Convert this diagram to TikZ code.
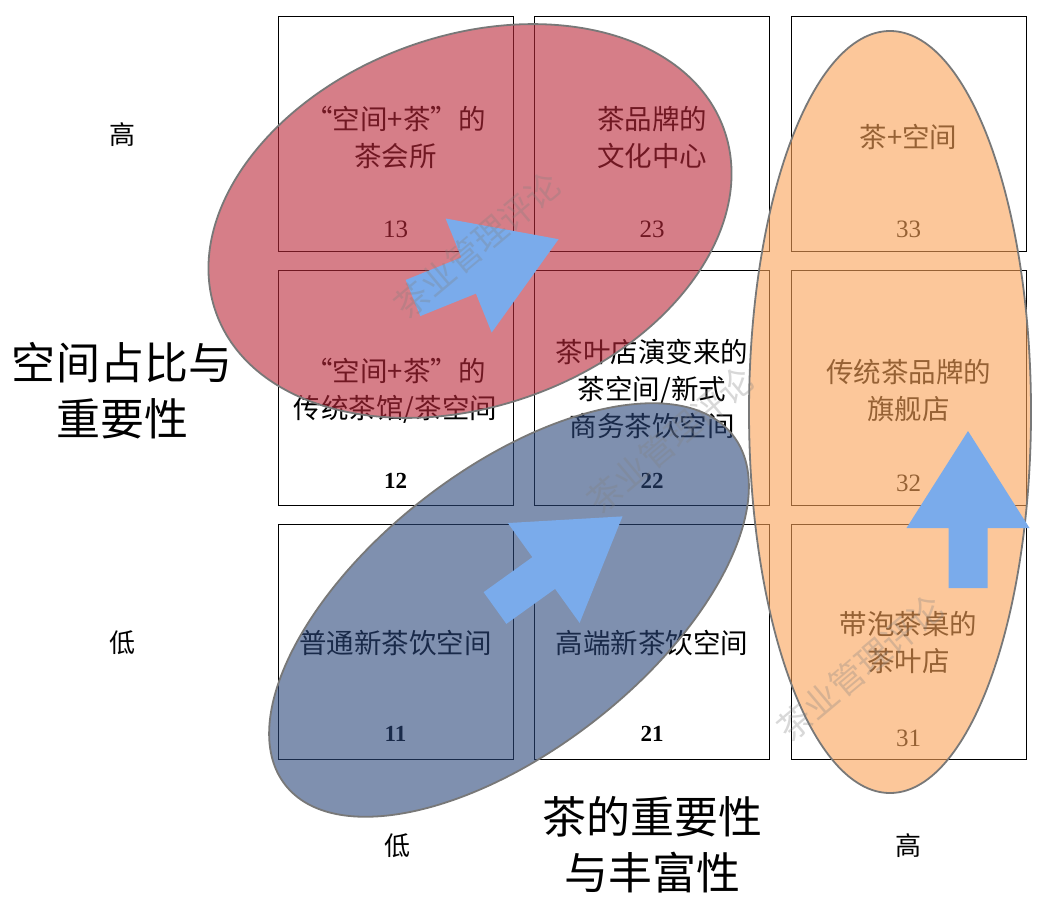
\documentclass[tikz,border=0pt]{standalone}
\usepackage{fontspec}
\setmainfont{Noto Sans CJK SC}
\newfontfamily\numfont{Liberation Serif}
\definecolor{redov}{RGB}{188,40,58}
\definecolor{blueov}{RGB}{43,70,123}
\definecolor{orangeov}{RGB}{250,163,88}
\definecolor{arrowblue}{RGB}{122,171,235}
\definecolor{rimgray}{RGB}{120,120,120}
\begin{document}
\begin{tikzpicture}[x=1pt,y=-1pt,
  cell/.style={draw=black, line width=0.9pt, minimum width=235pt, minimum height=235pt, inner sep=0pt},
  celltext/.style={align=center, font=\fontsize{27.5}{37}\selectfont, text=black, inner sep=0pt},
  numreg/.style={font=\numfont\fontsize{25}{25}\selectfont, text=black, inner sep=0pt},
  numbold/.style={font=\numfont\bfseries\fontsize{23}{23}\selectfont, text=black, inner sep=0pt},
  tick/.style={font=\fontsize{26}{26}\selectfont, text=black, inner sep=0pt},
  axis/.style={align=center, font=\fontsize{44}{56}\selectfont, text=black, inner sep=0pt},
  blob/.style={fill opacity=0.6, draw=rimgray, line width=1.8pt},
  wm/.style={font=\fontsize{34}{34}\selectfont, text=gray, text opacity=0.3, inner sep=0pt},
  blockarrow/.pic={\fill[arrowblue] (0,19.5) -- (60,19.5) -- (60,61.5) -- (157,0) -- (60,-61.5) -- (60,-19.5) -- (0,-19.5) -- cycle;}
]
\useasboundingbox (0,0) rectangle (1056,912);
\fill[white] (0,0) rectangle (1056,912);

% grid cells
\node[cell] (c13) at (395.5,133.5) {};
\node[cell] (c23) at (652,133.5) {};
\node[cell] (c33) at (908.5,133.5) {};
\node[cell] (c12) at (395.5,387.5) {};
\node[cell] (c22) at (652,387.5) {};
\node[cell] (c32) at (908.5,387.5) {};
\node[cell] (c11) at (395.5,642) {};
\node[cell] (c21) at (652,642) {};
\node[cell] (c31) at (908.5,642) {};

% cell texts
\node[celltext] (t13) at ([yshift=-4pt]c13.center) {“空间+茶”的\\茶会所};
\node[celltext] (t23) at ([yshift=-4pt]c23.center) {茶品牌的\\文化中心};
\node[celltext] (t33) at ([yshift=-4pt]c33.center) {茶+空间};
\node[celltext] (t12) at ([yshift=-3pt]c12.center) {“空间+茶”的\\传统茶馆/茶空间};
\node[celltext] (t22) at ([yshift=-2pt]c22.center) {茶叶店演变来的\\茶空间/新式\\商务茶饮空间};
\node[celltext] (t32) at ([yshift=-3pt]c32.center) {传统茶品牌的\\旗舰店};
\node[celltext] (t11) at ([yshift=-1pt]c11.center) {普通新茶饮空间};
\node[celltext] (t21) at ([yshift=-1pt]c21.center) {高端新茶饮空间};
\node[celltext] (t31) at ([yshift=-1pt]c31.center) {带泡茶桌的\\茶叶店};

% numbers
\node[numreg] (n13) at ([yshift=22pt]c13.south) {13};
\node[numreg] (n23) at ([yshift=22pt]c23.south) {23};
\node[numreg] (n33) at ([yshift=22pt]c33.south) {33};
\node[numbold] (n12) at ([yshift=25pt]c12.south) {12};
\node[numbold] (n22) at ([yshift=25pt]c22.south) {22};
\node[numreg] (n32) at ([yshift=22pt]c32.south) {32};
\node[numbold] (n11) at ([yshift=26pt]c11.south) {11};
\node[numbold] (n21) at ([yshift=26pt]c21.south) {21};
\node[numreg] (n31) at ([yshift=22pt]c31.south) {31};

% axis labels
\node[tick] (yhigh) at (122,135) {高};
\node[tick] (ylow) at (122,643) {低};
\node[axis] (ylab) at (122,391) {空间占比与\\重要性};
\node[tick] (xlow) at (397,846) {低};
\node[tick] (xhigh) at (908,846) {高};
\node[axis] (xlab) at (652,845) {茶的重要性\\与丰富性};

% overlay ellipses
\filldraw[blob, fill=redov, rotate around={20:(470,221)}] (470,221) ellipse [x radius=270pt, y radius=185pt];
\filldraw[blob, fill=blueov, rotate around={38:(509,610)}] (509,610) ellipse [x radius=284pt, y radius=140pt];
\filldraw[blob, fill=orangeov] (890,412) ellipse [x radius=141pt, y radius=381pt];

% block arrows
\pic[rotate=22] at (413,298) {blockarrow};
\pic[rotate=35.7] at (495,608) {blockarrow};
\pic[rotate=90] at (968,588) {blockarrow};

% watermarks
\node[wm, rotate=40] (wm1) at (477,245) {茶业管理评论};
\node[wm, rotate=40] (wm2) at (670,440) {茶业管理评论};
\node[wm, rotate=40] (wm3) at (860,668) {茶业管理评论};
\end{tikzpicture}
\end{document}
